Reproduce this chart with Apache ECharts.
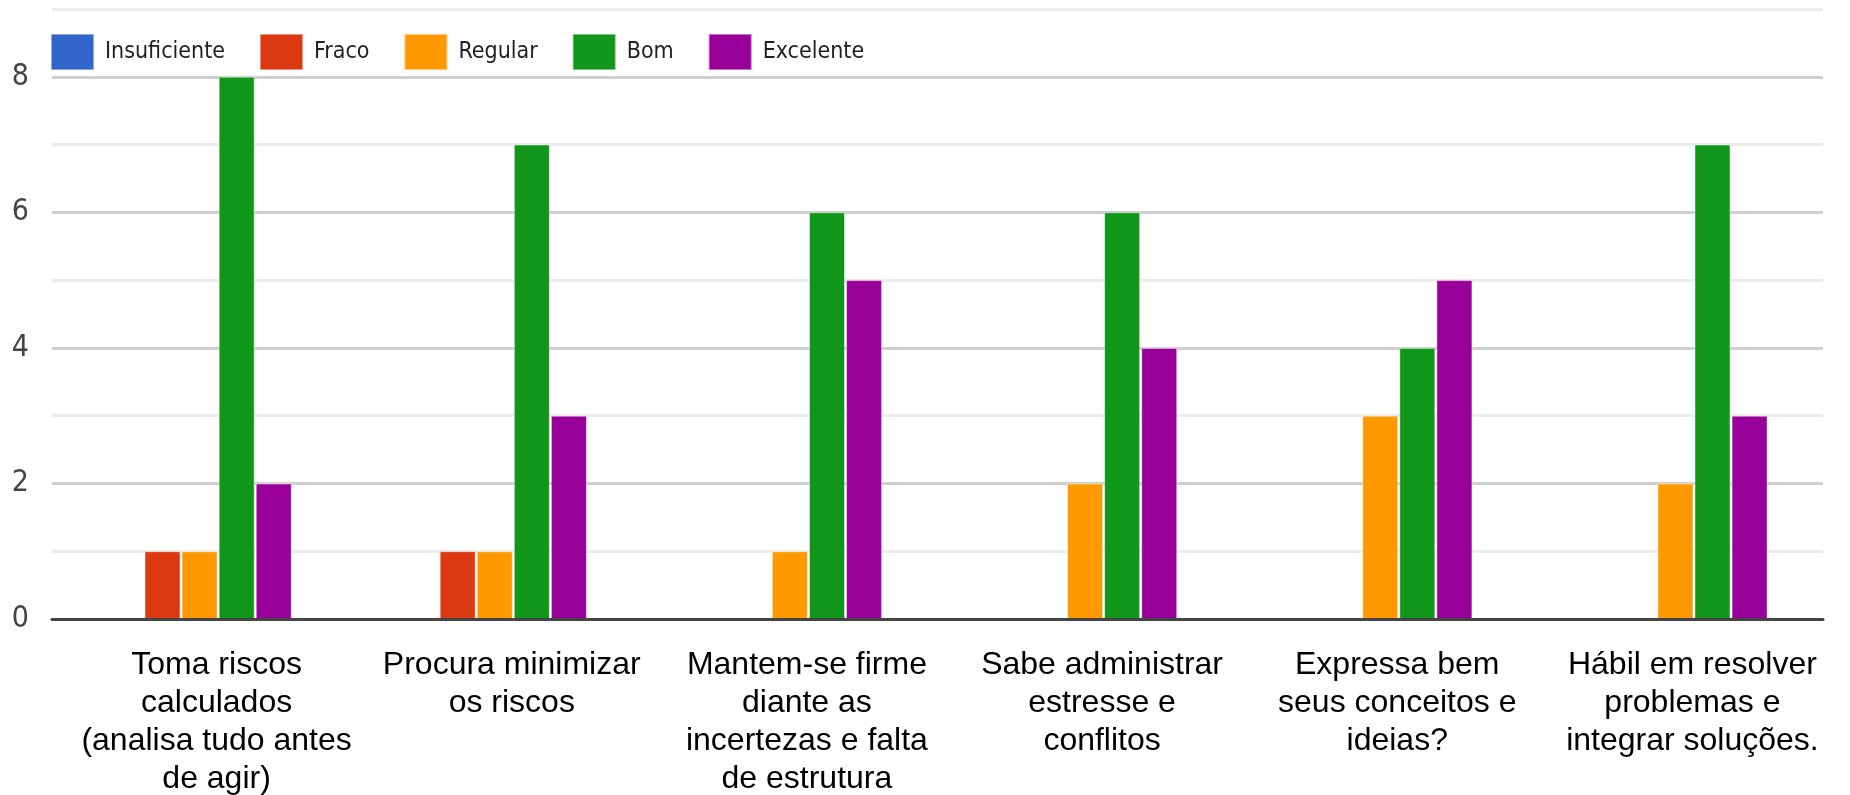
<!DOCTYPE html>
<html>
<head>
<meta charset="utf-8">
<script src="https://cdn.jsdelivr.net/npm/echarts@6/dist/echarts.min.js"></script>
<style>
  html, body { margin: 0; padding: 0; background: #fff; }
  #chart { width: 1850px; height: 795px; }
</style>
</head>
<body>
<div id="chart"></div>
<script>
// Questions (wrapped onto lines as they appear under the axis)
const categories = [
  'Toma riscos\ncalculados\n(analisa tudo antes\nde agir)',
  'Procura minimizar\nos riscos',
  'Mantem-se firme\ndiante as\nincertezas e falta\nde estrutura',
  'Sabe administrar\nestresse e\nconflitos',
  'Expressa bem\nseus conceitos e\nideias?',
  'Hábil em resolver\nproblemas e\nintegrar soluções.'
];

// Number of answers per rating
const insuficiente = [0, 0, 0, 0, 0, 0];
const fraco        = [1, 1, 0, 0, 0, 0];
const regular      = [1, 1, 1, 2, 3, 2];
const bom          = [8, 7, 6, 6, 4, 7];
const excelente    = [2, 3, 5, 4, 5, 3];

const seriesNames = ['Insuficiente', 'Fraco', 'Regular', 'Bom', 'Excelente'];
const seriesData  = [insuficiente, fraco, regular, bom, excelente];
const colors      = ['#3366cc', '#dc3912', '#ff9900', '#109618', '#990099'];

// Value axis range and labelled steps
const yMax = 9;
const yLabelStep = 2;

const condensed = "'Liberation Sans Narrow', 'DejaVu Sans Condensed', 'Liberation Sans', Arial, sans-serif";

const chart = echarts.init(document.getElementById('chart'), null, { renderer: 'canvas' });

chart.setOption({
  animation: false,
  color: colors,
  backgroundColor: '#ffffff',
  grid: {
    left: 52, right: 27, top: 9, bottom: 176,
    containLabel: false,
    outerBoundsMode: 'none'
  },
  legend: {
    left: 50,
    top: 33,
    padding: 0,
    icon: 'rect',
    itemWidth: 43,
    itemHeight: 36,
    itemGap: 34,
    textStyle: {
      fontFamily: condensed,
      fontSize: 23,
      color: '#222',
      padding: [0, 0, 0, 6]
    },
    data: seriesNames
  },
  xAxis: {
    type: 'category',
    data: categories,
    z: 5,
    axisLine: { show: true, lineStyle: { color: '#444', width: 3 } },
    axisTick: { show: false },
    axisLabel: {
      interval: 0,
      margin: 27,
      fontFamily: "'Liberation Sans', Arial, sans-serif",
      fontSize: 32,
      lineHeight: 38,
      color: '#000',
      align: 'center',
      padding: [0, 0, 0, 34]
    },
    splitLine: { show: false }
  },
  yAxis: {
    type: 'value',
    min: 0,
    max: yMax,
    interval: 1,
    axisLine: { show: false },
    axisTick: { show: false },
    axisLabel: {
      margin: 23,
      fontFamily: condensed,
      fontSize: 30,
      color: '#444',
      formatter: v => (v % yLabelStep === 0 && v < yMax ? String(v) : '')
    },
    splitLine: {
      show: true,
      lineStyle: { color: ['#cfcfcf', '#ececec'], width: 3 }
    }
  },
  series: seriesNames.map((name, i) => ({
    name: name,
    type: 'bar',
    data: seriesData[i],
    barWidth: 36,
    barGap: '3%',
    itemStyle: {
      color: colors[i],
      borderColor: 'rgba(255,255,255,0.45)',
      borderWidth: 1
    }
  }))
});
</script>
</body>
</html>
